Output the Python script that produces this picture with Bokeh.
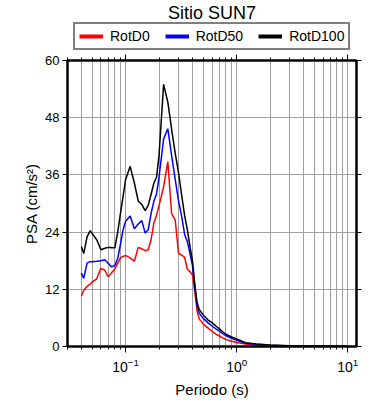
from bokeh.plotting import figure
from bokeh.layouts import column
from bokeh.models import (LogAxis, LinearAxis, FixedTicker, Legend, LegendItem,
                          LogTicker, ColumnDataSource)
from bokeh.embed import file_html
from bokeh.resources import INLINE

periods = [0.04, 0.042, 0.045, 0.048, 0.05, 0.055, 0.06, 0.065, 0.07, 0.075, 0.08,
           0.085, 0.09, 0.095, 0.1, 0.11, 0.12, 0.13, 0.14, 0.15, 0.16, 0.17, 0.18,
           0.19, 0.2, 0.22, 0.24, 0.26, 0.28, 0.3, 0.32, 0.34, 0.36, 0.38, 0.4, 0.42,
           0.44, 0.46, 0.5, 0.55, 0.6, 0.65, 0.7, 0.75, 0.8, 0.9, 1.0, 1.2, 1.5, 2.0,
           3.0, 4.0, 5.0, 7.5, 10.0]
rotd0 = [10.6, 11.8, 12.6, 13.1, 13.5, 14.2, 16.4, 16.0, 14.6, 15.5, 16.2,
         17.5, 18.6, 18.9, 19.1, 18.6, 17.9, 20.8, 20.5, 20.1, 20.3, 22.5, 26.0,
         27.5, 29.5, 33.5, 38.8, 27.8, 26.5, 19.5, 19.2, 18.7, 16.2, 15.7, 15.0, 11.5,
         7.5, 5.8, 4.7, 3.9, 3.2, 2.6, 2.2, 1.8, 1.5, 1.1, 0.85, 0.5, 0.3, 0.2,
         0.1, 0.07, 0.05, 0.03, 0.02]
rotd50 = [15.4, 14.3, 17.5, 17.8, 17.8, 17.9, 18.0, 18.2, 17.4, 16.7, 17.0,
          18.5, 21.5, 24.5, 26.3, 27.4, 24.7, 25.7, 26.4, 23.8, 24.5, 28.0, 30.5,
          32.0, 35.5, 43.5, 45.7, 40.0, 35.0, 30.5, 27.3, 23.5, 22.0, 19.5, 17.0, 12.5,
          8.6, 7.0, 5.9, 5.0, 4.3, 3.7, 3.2, 2.7, 2.3, 1.7, 1.3, 0.7, 0.45, 0.25,
          0.12, 0.08, 0.06, 0.04, 0.03]
rotd100 = [21.0, 19.5, 23.0, 24.3, 23.7, 22.4, 20.3, 20.6, 20.8, 20.7, 20.7,
           24.0, 28.0, 31.5, 35.0, 37.8, 34.3, 30.5, 29.8, 28.5, 29.6, 32.0, 34.3,
           35.5, 40.0, 55.0, 51.3, 45.5, 40.5, 36.4, 31.7, 27.5, 24.5, 21.0, 18.0, 13.0,
           9.3, 7.8, 6.6, 5.6, 5.0, 4.3, 3.7, 3.1, 2.6, 2.0, 1.6, 0.8, 0.5, 0.3,
           0.15, 0.1, 0.07, 0.04, 0.03]
y_ticks = [0, 12, 24, 36, 48, 60]
series_names = ["RotD0", "RotD50", "RotD100"]
series_colors = ["#ff0000", "#0000ff", "#000000"]

FONT = "Liberation Sans"

src = ColumnDataSource(dict(T=periods, d0=rotd0, d50=rotd50, d100=rotd100))
cols = ["d0", "d50", "d100"]

# ---- header figure: title + legend ----
hdr = figure(x_range=(0, 1), y_range=(0, 1), frame_width=289, frame_height=30,
             min_border_left=67, min_border_right=22, min_border_top=0, min_border_bottom=0,
             x_axis_location=None, y_axis_location=None,
             output_backend="svg", toolbar_location=None, title="Sitio SUN7",
             outline_line_color=None, background_fill_color="white",
             border_fill_color="white")
hdr.grid.visible = False
hdr.title.align = "center"
hdr.title.text_font = FONT
hdr.title.text_font_size = "18px"
hdr.title.text_font_style = "normal"
hdr.title.text_color = "black"
hdr.title.standoff = 0
hdr.title.offset = 0

items = []
for name, c, col in zip(series_names, cols, series_colors):
    r = hdr.line("T", c, source=src, line_color=col, line_width=4, visible=False)
    items.append(LegendItem(label=name, renderers=[r]))

legend = Legend(items=items, orientation="horizontal", location=(6, 2),
                label_text_font=FONT, label_text_font_size="14px",
                label_text_color="black",
                border_line_color="black", border_line_width=2,
                glyph_width=24, glyph_height=14, label_standoff=7, spacing=15,
                padding=4, margin=0, label_height=14, inactive_fill_alpha=0)
hdr.add_layout(legend, "center")

# ---- main figure ----
p = figure(x_axis_type="log", x_range=(0.03, 12), y_range=(0, 60),
           frame_width=289, frame_height=286,
           min_border_left=67, min_border_right=22, min_border_top=8, min_border_bottom=40,
           output_backend="svg", toolbar_location=None,
           background_fill_color="white", border_fill_color="white",
           outline_line_color="black", outline_line_width=2)

# grid
p.xgrid.grid_line_color = "#a0a0a0"
p.xgrid.grid_line_width = 1
p.xgrid.minor_grid_line_color = "#a0a0a0"
p.xgrid.minor_grid_line_width = 1
p.ygrid.grid_line_color = "#a0a0a0"
p.ygrid.ticker = FixedTicker(ticks=y_ticks)

# main axes
xa = p.xaxis[0]
xa.ticker = LogTicker(num_minor_ticks=10)
xa.axis_label = "Periodo (s)"
xa.axis_label_text_font = FONT
xa.axis_label_text_font_style = "normal"
xa.axis_label_text_font_size = "15px"
xa.axis_label_text_color = "black"
xa.axis_label_standoff = 6
xa.major_label_text_font = FONT
xa.major_label_text_font_size = "14px"
xa.major_label_text_color = "black"
xa.major_tick_out = 6
xa.major_tick_in = 0
xa.minor_tick_out = 3
xa.minor_tick_in = 0
xa.axis_line_width = 2
xa.major_label_standoff = 5

ya = p.yaxis[0]
ya.ticker = FixedTicker(ticks=y_ticks)
ya.axis_label = "PSA (cm/s²)"
ya.axis_label_text_font = FONT
ya.axis_label_text_font_style = "normal"
ya.axis_label_text_font_size = "15px"
ya.axis_label_text_color = "black"
ya.axis_label_standoff = 2
ya.major_label_text_font = FONT
ya.major_label_text_font_size = "13px"
ya.major_label_text_color = "black"
ya.major_tick_out = 5
ya.major_tick_in = 0
ya.minor_tick_out = 0
ya.minor_tick_in = 0
ya.axis_line_width = 2
ya.major_label_standoff = 3

# top and right frame axes with ticks only
top = LogAxis(ticker=LogTicker(num_minor_ticks=10), major_tick_out=6, major_tick_in=0,
              minor_tick_out=3, minor_tick_in=0, axis_line_width=2,
              major_label_text_color=None, major_label_text_font_size="1px",
              major_label_standoff=0)
p.add_layout(top, "above")
right = LinearAxis(ticker=FixedTicker(ticks=y_ticks), major_tick_out=5, major_tick_in=0,
                   minor_tick_out=0, minor_tick_in=0, axis_line_width=2,
                   major_label_text_color=None, major_label_text_font_size="6px",
                   major_label_standoff=0)
p.add_layout(right, "right")

# data lines
for c, col in zip(cols, series_colors):
    p.line("T", c, source=src, line_color=col, line_width=1.5)

layout = column(hdr, p, spacing=0)
open("out.html", "w").write(file_html(layout, INLINE))
